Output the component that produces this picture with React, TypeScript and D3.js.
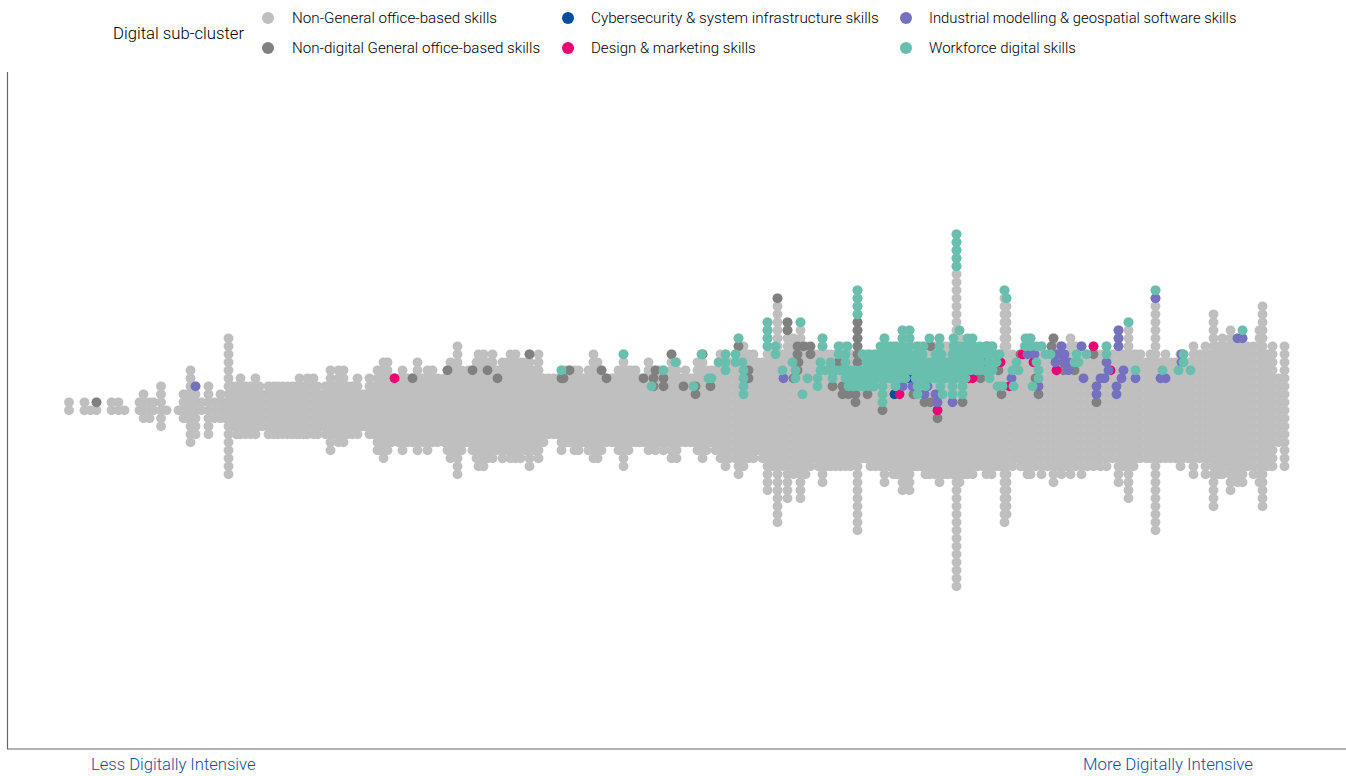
import React from "react";
import * as d3 from "d3";

// Digital intensity score (arbitrary units) and number of skills stacked at that score.
const columnsLow: [number, number][] = [
  [0.5,2],[16,2],[22,1],[28,2],[43,2],[50,2],[56,1],[71,2],[75,4],[81,3],[85,2],[92.5,6],[98,1],
  [110,1],[115,4],[119,4],[122,10],[127,7],[133,2],[140,7],[146,3],[152,4],[157,3],[160,18],[164,6],[168,7],
  [172,8],[177,7],[182,7],[187,8],[191,6],[194,5],[200,7],[205,7],[209,7],[214,7],[219,7],[224,7],[228,7],[231,8],[235,7],[239,8],[245,8],[249,7],
  [252,5],[257,7],[262,11],[266,7],[270,10],[275,10],[279,7],[284,7],[289,8],[294,5],[297,5],[301,8],[305,7],[309,11],[313,11],
  [315,13],[319,12],[323,9],[326,8],[330,9],[334,11],[339,9],[344,9],[349,12],[354,9],[359,11],[364,10],[369,9],[373,7],[376,9],
  [379,11],[382,13],[386,11],[389,17],[393,11],[397,9],[400,10],[404,11],[408,13],[410,15],[415,15],[419,13],[424,14],[429,11],[434,13],
];
const columnsMid: [number, number][] = [
  [439,12],[442,14],[447,14],[452,13],[457,12],[461,15],[466,11],[470,14],[475,9],[480,8],[485,8],[489,8],[493,11],[497,10],[501,10],
  [506,11],[510,11],[513,9],[516,9],[520,11],[525,14],[529,13],[533,11],[538,9],[543,9],[546,9],[550,11],[555,15],[560,11],[563,10],[567,10],[571,9],
  [575,9],[580,12],[584,10],[587,11],[591,10],[595,11],[599,9],[603,14],[608,13],[612,9],[617,10],[622,9],[625,9],[629,12],[634,14],
  [638,11],[643,10],[647,11],[652,14],[657,15],[661,13],[667,14],[670,18],[675,16],[680,14],[685,14],[689,12],
];
const columnsHigh: [number, number][] = [
  [694,13],[699,22],[704,15],[709,29],[714,15],[719,23],[725,18],[729,15],[732,23],[737,17],[742,15],[746,14],[750,15],[754,19],[758,15],
  [762,15],[767,15],[772,16],[777,16],[782,15],[785,13],[789,31],[794,14],[798,14],[802,15],[807,15],[812,15],[816,19],[821,16],[825,17],
  [829,17],[834,21],[837,19],[841,21],[845,16],[849,16],[853,16],[857,17],[861,17],[866,17],[871,19],[875,17],[879,17],[884,17],[888,45],
  [891,19],[895,17],[899,17],[904,17],[909,15],[914,15],[918,17],[923,17],[928,15],[932,15],[936,30],[938,28],[944,15],[948,13],[952,15],
  [956,16],[959,18],[962,18],[967,15],[973,17],[979,15],[985,19],[990,16],[993,17],[998,15],[1002,18],[1007,16],[1013,17],[1019,15],[1025,16],[1028,14],
  [1032,15],[1038,16],[1044,14],[1050,20],[1055,15],[1060,23],[1065,15],[1068,14],[1072,14],[1078,13],[1082,14],[1087,31],[1092,13],[1097,14],[1102,13],
  [1107,13],[1112,15],[1115,14],[1120,13],[1125,17],[1131,14],[1137,17],[1141,14],[1145,25],[1150,17],[1154,18],[1158,16],[1162,21],[1166,17],
  [1169,19],[1174,19],[1179,16],[1185,17],[1191,20],[1194,26],[1199,15],[1204,16],[1210,9],[1216,16],
];

// Coloured skills: [score, rank above the centre line]
const generalOffice: [number, number][] = [
  [28,1],[344,4],[379,5],[404,5],[419,5],[429,4],[461,7],[501,5],[493,4],[495,4],[533,5],[538,4],[575,4],[587,5],[585,4],[585,3],[595,4],[595,3],
  [603,7],[615,3],[627,3],[627,2],[634,7],[642,3],[680,5],[680,4],[670,8],[709,14],[719,11],[719,10],[729,8],[735,8],[742,8],[729,7],[742,7],[730,6],
  [729,5],[725,4],[789,11],[789,10],[789,9],[789,8],[789,7],[789,6],[770,6],[774,3],[764,3],[774,2],[780,2],[787,2],[787,1],[799,2],[814,0],
  [862,8],[919,8],[839,4],[845,2],[856,1],[862,1],[894,1],[869,-1],[912,4],[930,5],[933,2],[985,9],[983,8],[952,7],[1025,7],[995,5],[1006,5],[967,4],[970,2],[1028,1],
];
const cybersecurity: [number, number][] = [[826,2],[841,4]];
const designMarketing: [number, number][] = [
  [326,4],[831,2],[869,0],[900,4],[904,4],[932,6],[954,7],[965,6],[941,3],[988,5],[1025,8],[1042,5],
];
const industrial: [number, number][] = [
  [127,3],[715,4],[805,3],[834,3],[844,3],[859,3],[856,2],[867,2],[869,1],[884,1],[914,6],[912,5],[943,4],[959,7],[966,7],[970,3],[993,8],[1013,8],
  [987,7],[992,7],[996,7],[987,6],[995,6],[1000,6],[1000,5],[1015,4],[1032,4],[1036,4],[1038,6],[1040,5],[1055,5],[1053,4],[1028,3],[1028,2],[1048,3],
  [1048,2],[1050,10],[1050,9],[1050,8],[1067,4],[1092,4],[1097,4],[1113,7],[1113,6],[1087,14],[1169,9],[1174,9],
];
// Workforce digital skills, listed per rank
const workforceByRank: [number, number[]][] = [
  [22,[888]],[21,[888]],[20,[888]],[19,[888]],[18,[888]],
  [15,[789,936,1087]],[14,[789,938]],[13,[789]],[12,[789]],
  [11,[699,732,1060]],
  [10,[699,834,841,891,1174]],
  [9,[670,699,754,816,834,841,861,871,885,899,904,957,962]],
  [8,[699,707,754,770,779,812,817,822,827,834,841,849,855,871,885,890,895,900,905,911,917,924,957,962,968,973,1038]],
  [7,[555,633,657,667,707,770,777,794,800,806,812,818,824,830,836,842,848,854,867,873,884,890,896,902,908,914,920,926,931,977,982,1008,1018,1038,1115]],
  [6,[607,650,657,667,674,724,752,762,777,798,803,808,813,818,823,828,833,838,843,848,853,858,863,868,873,878,883,888,893,897,902,907,912,920,928,948,968,1006,1010,1115]],
  [5,[493,595,657,675,714,727,752,757,762,767,772,777,782,787,792,797,802,807,812,817,822,827,832,837,842,847,852,857,862,867,872,877,882,887,892,897,902,907,912,917,924,944,950,970,1067,1094,1110,1122]],
  [4,[640,643,675,727,739,749,764,777,782,787,792,797,802,807,812,817,822,827,832,837,847,852,857,862,867,872,877,882,887,892,897,921,970]],
  [3,[583,625,675,749,780,785,790,795,800,805,814,827,849,857,872,884,894,929,934,945,964]],
  [2,[675,734,814,849,874,884,894]],
  [1,[814]],
];

const legendTitle = "Digital sub-cluster";
const legendNames = [
  "Non-General office-based skills",
  "Non-digital General office-based skills",
  "Cybersecurity & system infrastructure skills",
  "Design & marketing skills",
  "Industrial modelling & geospatial software skills",
  "Workforce digital skills",
];
const palette = ["#bfbfbf", "#808080", "#004f9f", "#ec0074", "#7570c0", "#69bfae"];
const axisLabels = ["Less Digitally Intensive", "More Digitally Intensive"];

const W = 1346, H = 776;
const FONT = "Roboto, sans-serif";
const x = d3.scaleLinear().domain([0, 1216]).range([68.5, 1284.5]);
const y = d3.scaleLinear().domain([-25, 25]).range([610.3, 210.3]);
const R = 4.9;

const columns = [...columnsLow, ...columnsMid, ...columnsHigh];
const neutralDots: [number, number][] = columns.flatMap(([s, n]) =>
  d3.range(-Math.floor((n - 1) / 2), Math.floor(n / 2) + 1).map((r) => [s, r] as [number, number])
);
const workforce: [number, number][] = workforceByRank.flatMap(([r, ss]) => ss.map((s) => [s, r] as [number, number]));
const layers: [string, [number, number][]][] = [
  [palette[0], neutralDots],
  [palette[1], generalOffice],
  [palette[2], cybersecurity],
  [palette[3], designMarketing],
  [palette[4], industrial],
  [palette[5], workforce],
];

const legendDotX = [268, 268, 568, 568, 906, 906];
const legendTextX = [292, 292, 591, 591, 929, 929];
const legendFontSize = [15.2, 15.15, 15.25, 15.05, 14.8, 14.95];
const legendRowY = [18, 48];

export default function App() {
  return (
    <svg width={W} height={H} style={{ position: "absolute", left: 0, top: 0 }} fontFamily={FONT}>
      {layers.map(([c, pts], i) => (
        <g key={i} fill={c}>
          {pts.map(([s, r], j) => (
            <circle key={j} cx={x(s)} cy={y(r)} r={R} />
          ))}
        </g>
      ))}
      <path d="M7.5 72V749H1346" fill="none" stroke="#666" strokeWidth={1.2} />
      <text x={91} y={770} fontSize={16.6} fontWeight={300} fill="#0f4f9e">{axisLabels[0]}</text>
      <text x={1083} y={770} fontSize={16.8} fontWeight={300} fill="#0f4f9e">{axisLabels[1]}</text>
      <text x={113} y={39} fontSize={16.7} fontWeight={300} fill="#000">{legendTitle}</text>
      {legendNames.map((name, i) => (
        <g key={name}>
          <circle cx={legendDotX[i]} cy={legendRowY[i % 2]} r={6} fill={palette[i]} />
          <text x={legendTextX[i]} y={legendRowY[i % 2] + 5} fontSize={legendFontSize[i]} fontWeight={300} fill="#000">{name}</text>
        </g>
      ))}
    </svg>
  );
}
